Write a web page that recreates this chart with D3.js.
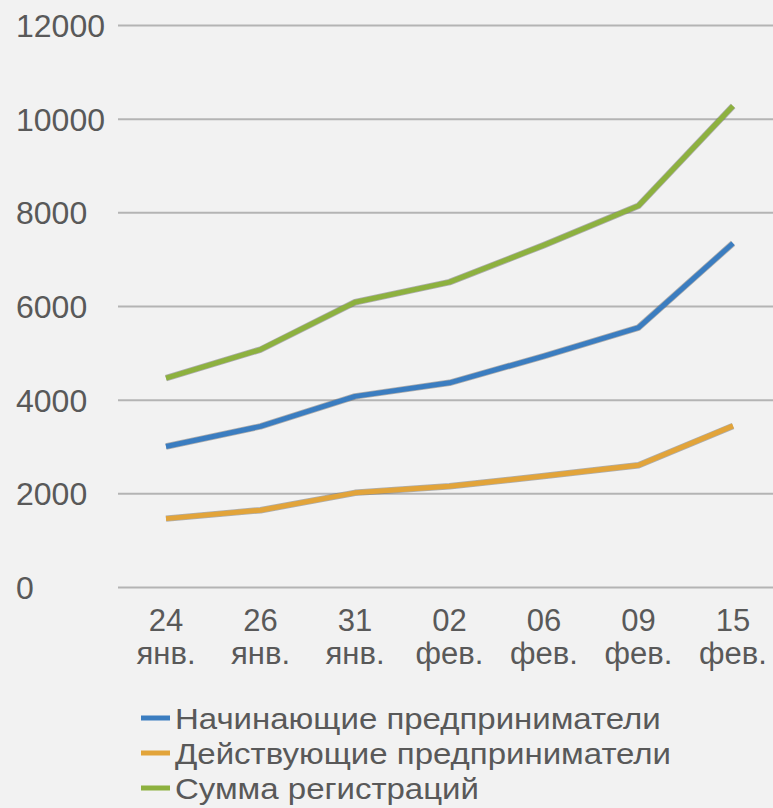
<!DOCTYPE html>
<html>
<head>
<meta charset="utf-8">
<script src="https://cdn.jsdelivr.net/npm/d3@7"></script>
<style>
  html, body { margin: 0; padding: 0; background: #f2f2f2; }
  svg { display: block; font-family: "Liberation Sans", Arial, sans-serif; }
</style>
</head>
<body>
<div id="chart"></div>
<script>
// Data
const days = ["24", "26", "31", "02", "06", "09", "15"];
const months = ["янв.", "янв.", "янв.", "фев.", "фев.", "фев.", "фев."];
const beginners = [3000, 3430, 4070, 4360, 4930, 5540, 7340];
const active = [1460, 1640, 2010, 2150, 2370, 2600, 3440];
const total = [4460, 5070, 6080, 6510, 7300, 8140, 10270];
const yTicks = [0, 2000, 4000, 6000, 8000, 10000, 12000];
const seriesNames = ["Начинающие предприниматели", "Действующие предприниматели", "Сумма регистраций"];
const seriesColors = ["#3b7dc0", "#e2a43a", "#8db13f"];

const width = 773, height = 808;
const textColor = "#595959";

const svg = d3.select("#chart")
    .append("svg")
    .attr("width", width)
    .attr("height", height);

svg.append("rect")
    .attr("width", width)
    .attr("height", height)
    .attr("fill", "#f2f2f2");

// Scales
const x = d3.scalePoint()
    .domain(days.map((d, i) => i))
    .range([166, 733]);

const y = d3.scaleLinear()
    .domain([0, 12000])
    .range([587, 25]);

// Y axis with gridlines
const yAxis = svg.append("g")
    .attr("transform", "translate(118,0)")
    .call(d3.axisLeft(y).tickValues(yTicks).tickSize(-(width - 118)).tickFormat(d3.format("d")))
    .call(g => g.select(".domain").remove());

yAxis.selectAll(".tick line")
    .attr("stroke", "#b4b4b4")
    .attr("stroke-width", 2);

yAxis.selectAll(".tick text")
    .attr("x", -102)
    .attr("dy", "0.36em")
    .attr("text-anchor", "start")
    .attr("fill", textColor)
    .style("font-size", "32px");

// X axis labels (two lines)
const xLabels = svg.append("g")
    .selectAll("text")
    .data(days)
    .enter()
    .append("text")
    .attr("transform", (d, i) => `translate(${x(i)},0)`)
    .attr("text-anchor", "middle")
    .attr("fill", textColor)
    .style("font-size", "31px");

xLabels.append("tspan")
    .attr("x", 0)
    .attr("y", 631)
    .text(d => d);

xLabels.append("tspan")
    .attr("x", 0)
    .attr("y", 664)
    .text((d, i) => months[i]);

// Lines
const allSeries = [beginners, active, total];
const line = d3.line()
    .x((d, i) => x(i))
    .y(d => y(d));

allSeries.forEach((vals, k) => {
    // thin dark edge under each line
    svg.append("path")
        .datum(vals)
        .attr("d", line)
        .attr("fill", "none")
        .attr("stroke", "#5a5a5a")
        .attr("stroke-opacity", 0.45)
        .attr("stroke-width", 6.5)
        .attr("stroke-linejoin", "round");
    svg.append("path")
        .datum(vals)
        .attr("d", line)
        .attr("fill", "none")
        .attr("stroke", seriesColors[k])
        .attr("stroke-width", 5)
        .attr("stroke-linejoin", "round");
});

// Legend
const legend = svg.append("g")
    .selectAll("g")
    .data(seriesNames)
    .enter()
    .append("g")
    .attr("transform", (d, i) => `translate(141, ${718 + i * 35})`);

legend.append("line")
    .attr("x1", 0)
    .attr("x2", 29)
    .attr("stroke", (d, i) => seriesColors[i])
    .attr("stroke-width", 5);

legend.append("text")
    .attr("transform", "translate(34,11) scale(1.1,1)")
    .attr("fill", textColor)
    .style("font-size", "30px")
    .text(d => d);
</script>
</body>
</html>
